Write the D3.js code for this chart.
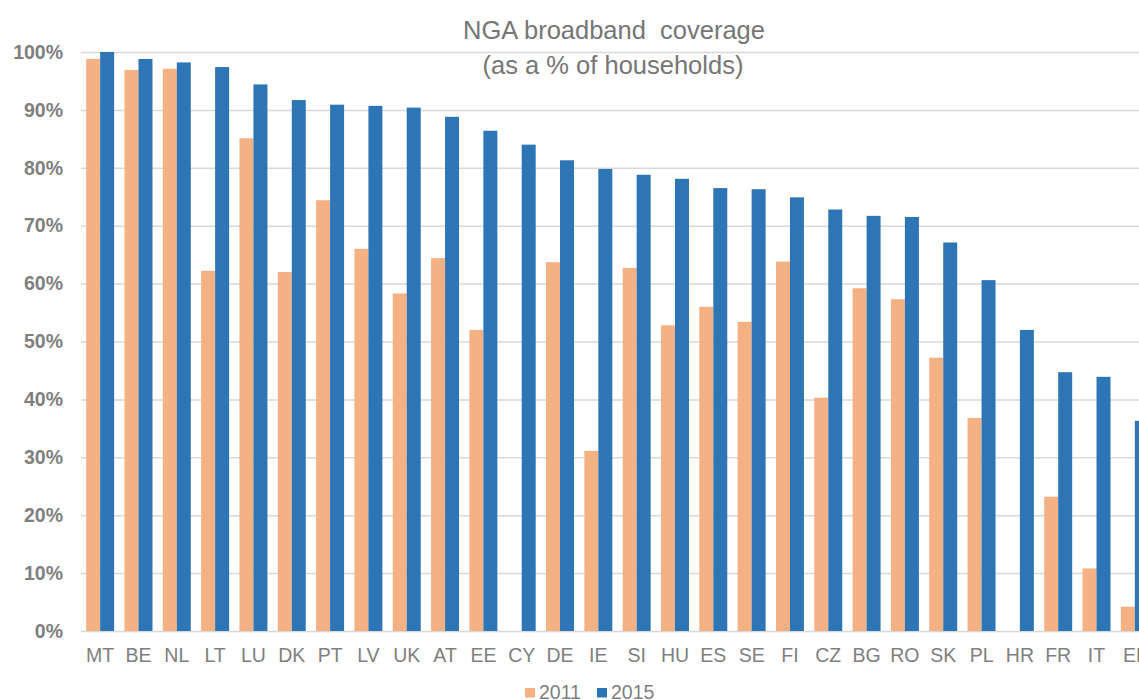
<!DOCTYPE html>
<html>
<head>
<meta charset="utf-8">
<script src="https://cdn.jsdelivr.net/npm/d3@7"></script>
<style>
  body { margin: 0; background: #fff; }
  svg { display: block; font-family: 'Liberation Sans', Arial, sans-serif; }
</style>
</head>
<body>
<script>
const countries = ['MT', 'BE', 'NL', 'LT', 'LU', 'DK', 'PT', 'LV', 'UK', 'AT', 'EE', 'CY', 'DE', 'IE',
  'SI', 'HU', 'ES', 'SE', 'FI', 'CZ', 'BG', 'RO', 'SK', 'PL', 'HR', 'FR', 'IT', 'EL'];
const years = ['2011', '2015'];
const cov2011 = [98.8, 96.9, 97.1, 62.2, 85.1, 62.0, 74.4, 66.0, 58.3, 64.4, 52.0, 0, 63.7, 31.1,
  62.7, 52.8, 56.0, 53.4, 63.8, 40.3, 59.2, 57.3, 47.2, 36.8, 0, 23.2, 10.8, 4.2];
const cov2015 = [100, 98.8, 98.2, 97.4, 94.4, 91.7, 90.9, 90.7, 90.4, 88.8, 86.4, 84.0, 81.3, 79.8,
  78.8, 78.1, 76.5, 76.3, 74.9, 72.8, 71.7, 71.5, 67.1, 60.6, 52.0, 44.7, 43.9, 36.3];
const yTicks = [0, 10, 20, 30, 40, 50, 60, 70, 80, 90, 100];
const colors = { '2011': '#f4b183', '2015': '#2e75b6' };

const width = 1139;
const height = 700;
const plotLeft = 81;
const plotRight = 1154; // plot runs past the picture edge, like the source
const plotTop = 52;
const plotBottom = 631;
const grey = '#7f7f7f';

const rows = countries.map((c, i) => ({ country: c, '2011': cov2011[i], '2015': cov2015[i] }));

const svg = d3.select('body').append('svg')
  .attr('width', width)
  .attr('height', height);

const x0 = d3.scaleBand()
  .domain(countries)
  .range([plotLeft, plotRight])
  .paddingInner(0.27)
  .paddingOuter(0.135);

const x1 = d3.scaleBand()
  .domain(years)
  .range([0, x0.bandwidth()]);

const y = d3.scaleLinear()
  .domain([0, 100])
  .range([plotBottom, plotTop]);

// gridlines + y labels
const yAxis = svg.append('g')
  .attr('transform', `translate(${plotLeft},0)`)
  .call(d3.axisLeft(y)
    .tickValues(yTicks)
    .tickFormat(d => d + '%')
    .tickSize(-(plotRight - plotLeft))
    .tickPadding(18));

yAxis.select('.domain').remove();
yAxis.selectAll('line')
  .attr('stroke', '#d9d9d9')
  .attr('stroke-width', 1.5);
yAxis.selectAll('text')
  .attr('fill', grey)
  .attr('font-size', '19.5px')
  .attr('font-weight', 'bold')
  .attr('font-family', "'Liberation Sans', Arial, sans-serif");

// bars
svg.append('g')
  .selectAll('g')
  .data(rows)
  .join('g')
    .attr('transform', d => `translate(${x0(d.country)},0)`)
  .selectAll('rect')
  .data(d => years.map(k => ({ key: k, value: d[k] })))
  .join('rect')
    .attr('x', d => x1(d.key))
    .attr('y', d => y(d.value))
    .attr('width', x1.bandwidth())
    .attr('height', d => y(0) - y(d.value))
    .attr('fill', d => colors[d.key]);

// category labels
const xAxis = svg.append('g')
  .attr('transform', `translate(0,${plotBottom})`)
  .call(d3.axisBottom(x0).tickSize(0).tickPadding(17));

xAxis.select('.domain').remove();
xAxis.selectAll('text')
  .attr('fill', grey)
  .attr('font-size', '19.5px')
  .attr('font-family', "'Liberation Sans', Arial, sans-serif");

// title
const title = svg.append('text')
  .attr('x', 614)
  .attr('text-anchor', 'middle')
  .attr('fill', '#767676')
  .attr('font-size', '25.5px')
  .style('white-space', 'pre');
title.append('tspan').attr('x', 614).attr('y', 39).text('NGA broadband  coverage');
title.append('tspan').attr('x', 613).attr('y', 73.5).text('(as a % of households)');

// legend
const legend = svg.append('g')
  .selectAll('g')
  .data(years)
  .join('g')
    .attr('transform', (d, i) => `translate(${525 + i * 72},0)`);

legend.append('rect')
  .attr('x', 0)
  .attr('y', 688)
  .attr('width', 10)
  .attr('height', 9.5)
  .attr('fill', d => colors[d]);

legend.append('text')
  .attr('x', 14)
  .attr('y', 699)
  .attr('fill', grey)
  .attr('font-size', '19.5px')
  .text(d => d);
</script>
</body>
</html>
